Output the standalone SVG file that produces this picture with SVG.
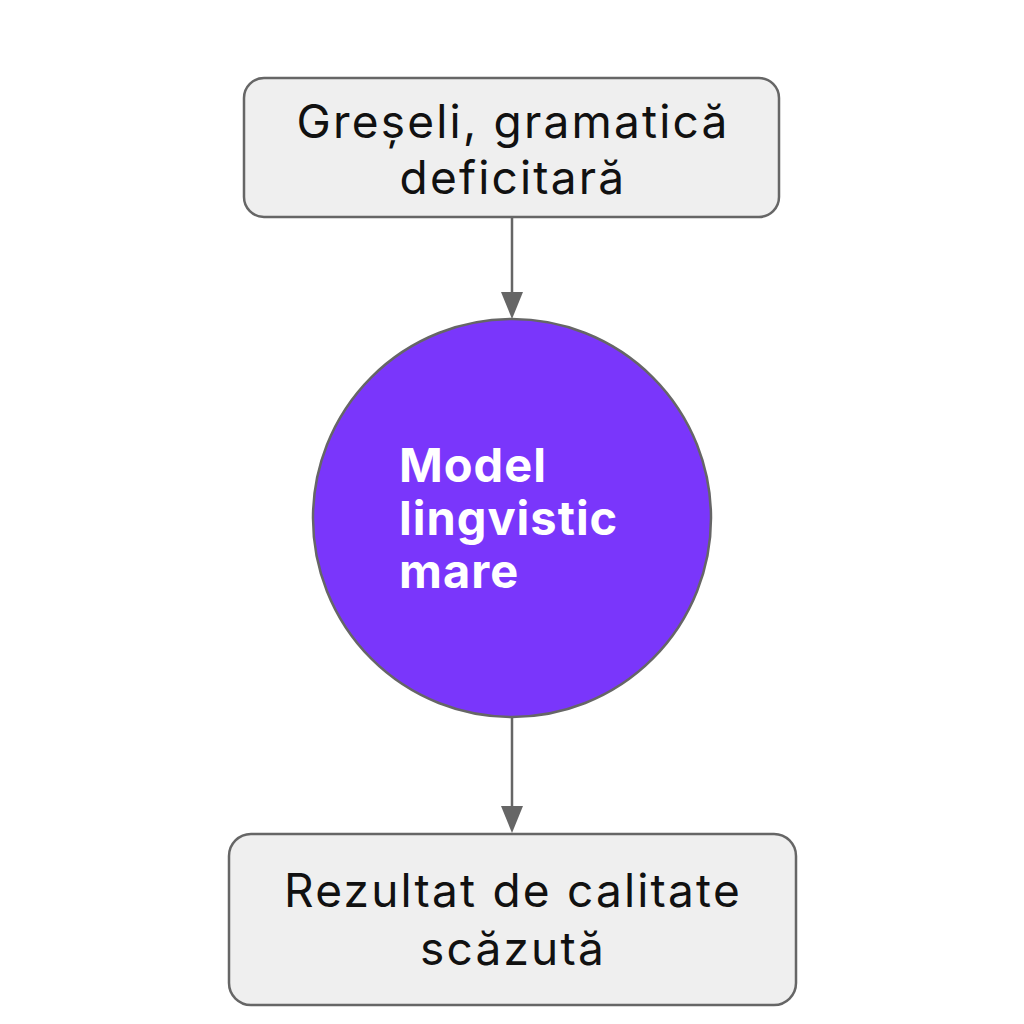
<svg xmlns="http://www.w3.org/2000/svg" width="1024" height="1024" viewBox="0 0 1024 1024">
<style>
.box{fill:#efefef;stroke:#666;stroke-width:2.5}
.lbl{font-family:Inter,"Open Sans","Liberation Sans",sans-serif;font-size:46px;letter-spacing:2.2px;fill:#111;text-anchor:middle}
.clbl{font-family:Inter,"Open Sans","Liberation Sans",sans-serif;font-size:47px;letter-spacing:1px;font-weight:700;fill:#fff}
.edge{stroke:#666;stroke-width:2.5;fill:none}
</style>
<rect width="1024" height="1024" fill="#fff"/>
<g id="connectors">
<line class="edge" x1="512" y1="217" x2="512" y2="294"/>
<path d="M501,292 L523,292 L512,319 Z" fill="#666"/>
<line class="edge" x1="512" y1="718" x2="512" y2="808"/>
<path d="M501,806 L523,806 L512,833 Z" fill="#666"/>
</g>
<g id="node-input">
<rect class="box" x="244" y="78" width="535" height="139" rx="20"/>
<text class="lbl" x="513" y="138">Greșeli, gramatică</text>
<text class="lbl" x="513" y="194">deficitară</text>
</g>
<g id="node-model">
<circle cx="512" cy="518" r="199" fill="#7a36fb" stroke="#666" stroke-width="2.5"/>
<text class="clbl" x="399" y="482">Model</text>
<text class="clbl" x="399" y="535">lingvistic</text>
<text class="clbl" x="399" y="588">mare</text>
</g>
<g id="node-output">
<rect class="box" x="229" y="834" width="567" height="171" rx="22"/>
<text class="lbl" x="513" y="907">Rezultat de calitate</text>
<text class="lbl" x="513" y="965">scăzută</text>
</g>
</svg>
